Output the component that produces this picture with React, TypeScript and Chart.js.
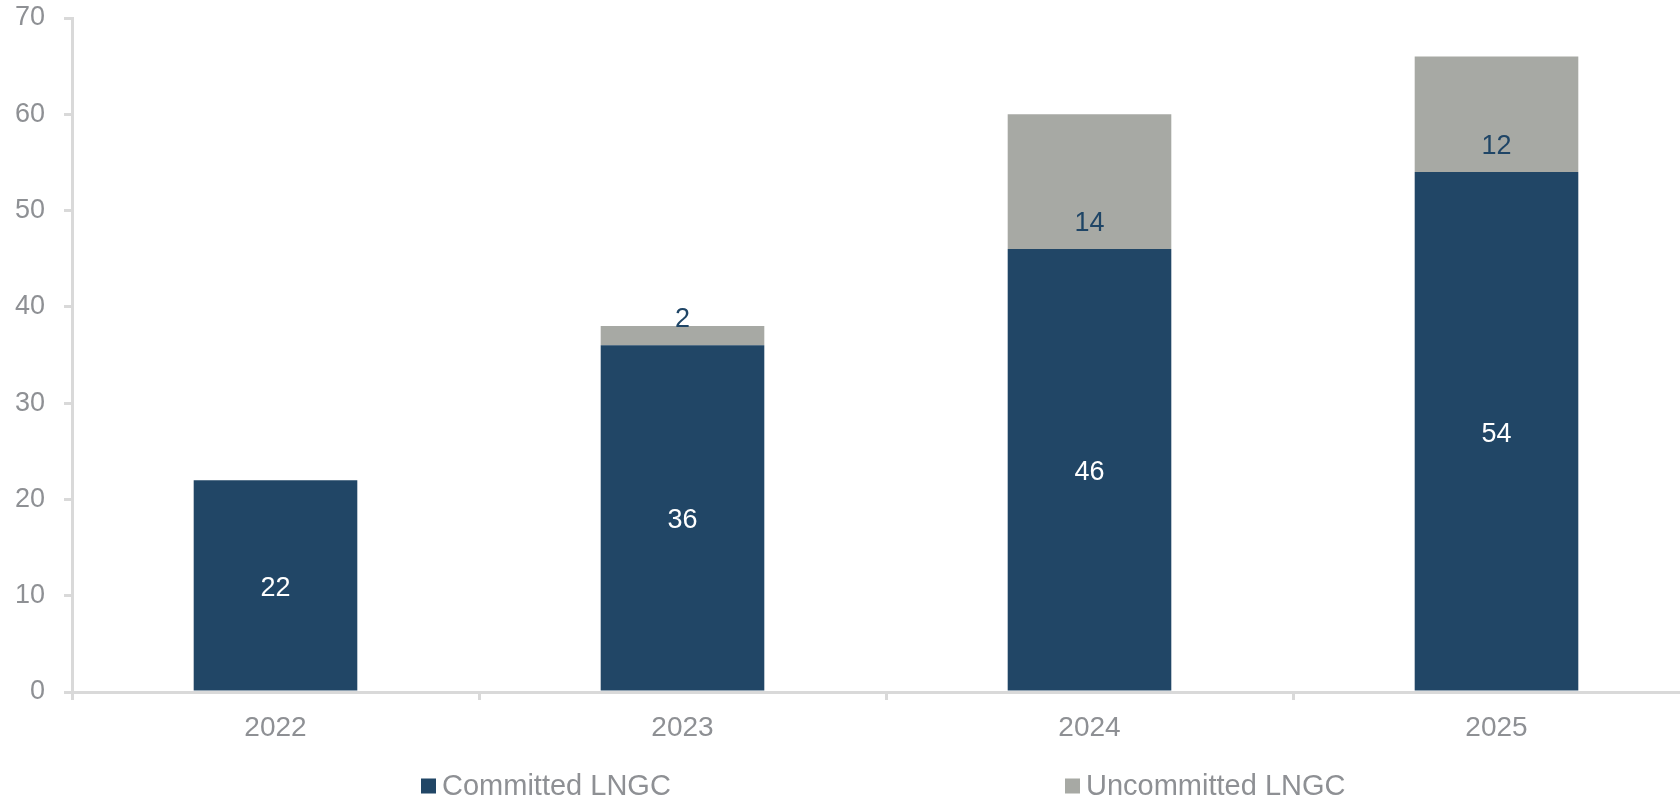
import React, { useEffect, useRef } from "react";
import { Chart, registerables } from "chart.js";

Chart.register(...registerables);

const categories = ["2022", "2023", "2024", "2025"];
const committedLNGC = [22, 36, 46, 54];
const uncommittedLNGC = [null, 2, 14, 12];
const seriesNames = ["Committed LNGC", "Uncommitted LNGC"];
const yMin = 0;
const yMax = 70;
const yStep = 10;

const NAVY = "#214666";
const GREY_BAR = "#a7a9a4";
const TEXT_GREY = "#8e9094";
const AXIS_GREY = "#d9d9d9";
const FONT = "'Liberation Sans', Arial, Helvetica, sans-serif";

const valueLabels = {
  id: "valueLabels",
  afterDatasetsDraw(chart: any) {
    const ctx = chart.ctx;
    ctx.save();
    chart.data.datasets.forEach((ds: any, i: number) => {
      const meta = chart.getDatasetMeta(i);
      const st = ds.labelStyle;
      ctx.font = `${st.size}px ${FONT}`;
      ctx.fillStyle = st.color;
      ctx.textAlign = "center";
      ctx.textBaseline = "middle";
      meta.data.forEach((bar: any, j: number) => {
        const v = ds.data[j];
        if (v === null || v === undefined) return;
        const p = bar.getProps(["x", "y", "base"], true);
        const ty = st.pos === "center" ? (p.y + p.base) / 2 + st.dy : p.base - st.offset;
        ctx.fillText(String(v), p.x, ty);
      });
    });
    ctx.restore();
  },
};

const customLegend = {
  id: "customLegend",
  afterDraw(chart: any, _args: any, opts: any) {
    const ctx = chart.ctx;
    ctx.save();
    ctx.font = `${opts.size}px ${FONT}`;
    ctx.textBaseline = "middle";
    ctx.textAlign = "left";
    chart.data.datasets.forEach((ds: any, i: number) => {
      const x = opts.xs[i];
      const y = opts.y;
      ctx.fillStyle = ds.backgroundColor;
      ctx.fillRect(x, y - opts.box / 2, opts.box, opts.box);
      ctx.fillStyle = opts.color;
      ctx.fillText(ds.label, x + opts.box + opts.gap, y + opts.textDy);
    });
    ctx.restore();
  },
};

export default function App() {
  const ref = useRef<HTMLCanvasElement | null>(null);

  useEffect(() => {
    if (!ref.current) return;
    const chart = new Chart(ref.current, {
      type: "bar",
      data: {
        labels: categories,
        datasets: [
          {
            label: seriesNames[0],
            data: committedLNGC,
            backgroundColor: NAVY,
            barPercentage: 0.402,
            categoryPercentage: 1,
            labelStyle: { pos: "center", dy: 3, color: "#ffffff", size: 27 },
          } as any,
          {
            label: seriesNames[1],
            data: uncommittedLNGC,
            backgroundColor: GREY_BAR,
            barPercentage: 0.402,
            categoryPercentage: 1,
            labelStyle: { pos: "base", offset: 26, color: "#1f4566", size: 27 },
          } as any,
        ],
      },
      options: {
        animation: false,
        responsive: false,
        maintainAspectRatio: false,
        layout: { padding: { top: 18, right: 10, bottom: 0, left: 0 } },
        plugins: {
          legend: { display: false },
          tooltip: { enabled: false },
          customLegend: {
            xs: [421, 1065],
            y: 786,
            textDy: 1,
            box: 15,
            gap: 6,
            size: 29,
            color: TEXT_GREY,
          },
        } as any,
        scales: {
          x: {
            stacked: true,
            grid: {
              display: true,
              drawOnChartArea: false,
              drawTicks: true,
              tickLength: 8,
              color: AXIS_GREY,
              lineWidth: 3,
              offset: true,
            },
            border: { display: true, color: AXIS_GREY, width: 3 },
            ticks: {
              color: TEXT_GREY,
              font: { family: FONT, size: 28 },
              padding: 11,
              maxRotation: 0,
            },
            afterFit: (s: any) => {
              s.height = 108;
            },
          },
          y: {
            stacked: true,
            min: yMin,
            max: yMax,
            grid: {
              display: true,
              drawOnChartArea: false,
              drawTicks: true,
              tickLength: 8,
              color: AXIS_GREY,
              lineWidth: 3,
            },
            border: { display: true, color: AXIS_GREY, width: 3 },
            ticks: {
              stepSize: yStep,
              color: TEXT_GREY,
              font: { family: FONT, size: 27 },
              padding: 19,
            },
            afterFit: (s: any) => {
              s.width = 72;
              s.paddingTop = 0;
              s.paddingBottom = 0;
            },
          },
        },
      },
      plugins: [valueLabels, customLegend],
    });
    return () => chart.destroy();
  }, []);

  return (
    <div
      style={{
        position: "fixed",
        left: 0,
        top: 0,
        width: 1680,
        height: 800,
        overflow: "hidden",
        background: "#ffffff",
      }}
    >
      <canvas ref={ref} width={1710} height={800} style={{ display: "block", width: 1710, height: 800 }} />
    </div>
  );
}
